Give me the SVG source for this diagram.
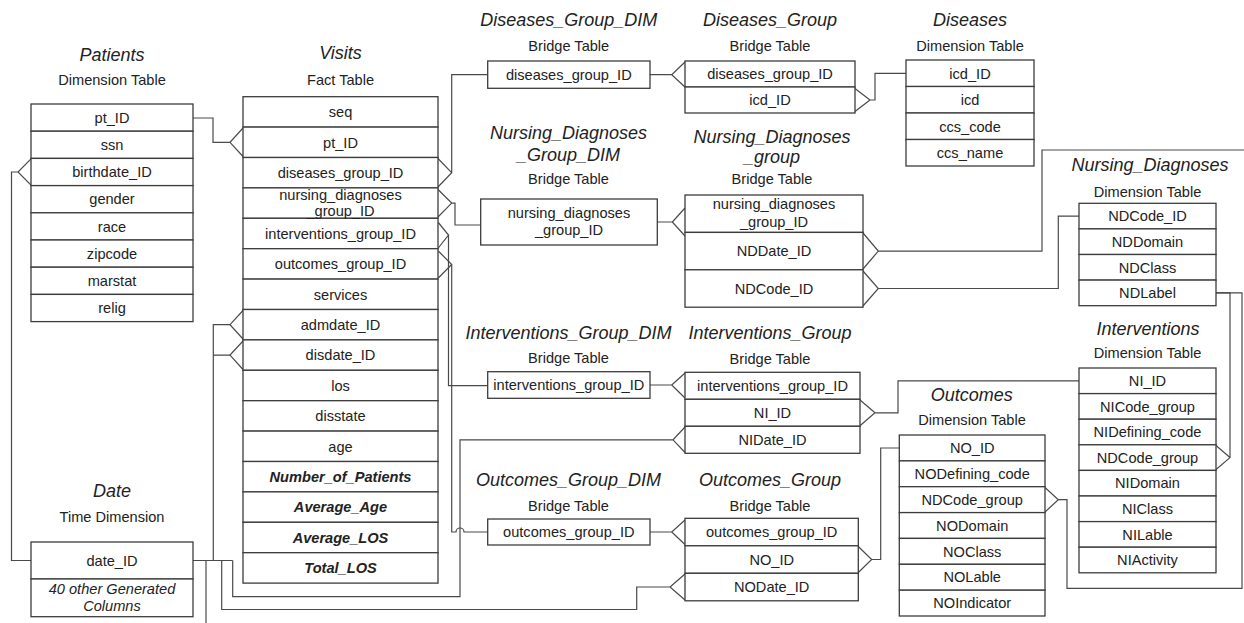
<svg xmlns="http://www.w3.org/2000/svg" width="1244" height="623" viewBox="0 0 1244 623">
<style>
.bg{fill:#ffffff}
.cell{fill:#ffffff;stroke:#3c3c3c;stroke-width:1.3}
.conn{fill:none;stroke:#4a4a4a;stroke-width:1.2}
text{font-family:"Liberation Sans",Arial,sans-serif;fill:#222;text-anchor:middle}
.t{font-size:14.6px}
.ttl{font-size:18px;font-style:italic}
.sub{font-size:14.6px}
.bi{font-size:14.6px;font-weight:bold;font-style:italic}
.it{font-size:14.6px;font-style:italic}
</style>
<rect class="bg" x="0" y="0" width="1244" height="623"/>

<g id="connectors">
  <path class="conn" d="M193,118 H213 V142.3 H230 M243,128 L230,142.3 L243,156.5"/>
  <path class="conn" d="M31,158.8 L18,172 L31,185.2 M18,172 H11.5 V560.5 H31"/>
  <path class="conn" d="M193,560.5 H232.7"/>
  <path class="conn" d="M213.3,560.5 V324.7 H230 M213.3,355.1 H230"/>
  <path class="conn" d="M243,310.5 L230,324.7 L243,339 M243,341 L230,355.1 L243,369.5"/>
  <path class="conn" d="M206,560.5 V623"/>
  <path class="conn" d="M221.7,560.5 V609.5 H636.7 V587 H670 M685,574 L670,587 L685,600"/>
  <path class="conn" d="M232.7,560.5 V596.7 H460 V439.8 H673 M685,427 L673,439.8 L685,452.5"/>
  <path class="conn" d="M438,158.5 L451.7,172.7 L438,187 M451.7,172.7 V74.7 H487.7"/>
  <path class="conn" d="M438,189.5 L451.7,203.1 L438,217 M451.7,203.1 H455 V225 H480.7"/>
  <path class="conn" d="M438.3,222.5 L448.5,235 L438.3,248 M448.5,235 V385.7 H487.7"/>
  <path class="conn" d="M438.3,251 L451.7,264.5 L438.3,278 M451.7,264.5 V532 H456 A4,4 0 0 1 464,532 H487.7"/>
  <path class="conn" d="M650,74.7 H671.7 M685,62 L671.7,74.7 L685,87"/>
  <path class="conn" d="M855,88.5 L870,100 L855,111.5 M870,100 H875 V73.3 H906"/>
  <path class="conn" d="M657.3,222 H672.3 M685,208 L672.3,222 L685,236"/>
  <path class="conn" d="M863,233 L878.3,251.1 L863,269 M878.3,251.1 H1042 V150 H1244"/>
  <path class="conn" d="M863,271 L878.3,288.5 L863,306 M878.3,288.5 H1058.3 V216.1 H1079"/>
  <path class="conn" d="M860,400 L875,412.8 L860,425.8 M875,412.8 H898 V380.8 H1079"/>
  <path class="conn" d="M1216,292.9 H1230 V457.6 M1216,445.5 L1230,457.6 L1216,469.5"/>
  <path class="conn" d="M1216,292.9 H1242 V588.3 H1067 V499.7 H1058.3 M1045,487.5 L1058.3,499.7 L1045,512"/>
  <path class="conn" d="M858.3,546.5 L871.7,559.5 L858.3,572.5 M871.7,559.5 H880.7 V448 H899.3"/>
  <path class="conn" d="M650,385 H671.7 M685,373 L671.7,385 L685,398"/>
  <path class="conn" d="M650,532 H671.7 M685,520 L671.7,532 L685,544.5"/>
</g>

<g id="patients">
  <text class="ttl" x="112" y="60.5">Patients</text>
  <text class="sub" x="112" y="85">Dimension Table</text>
  <rect class="cell" x="31" y="104" width="162" height="27.2"/>
  <rect class="cell" x="31" y="131.2" width="162" height="27.2"/>
  <rect class="cell" x="31" y="158.4" width="162" height="27.2"/>
  <rect class="cell" x="31" y="185.6" width="162" height="27.2"/>
  <rect class="cell" x="31" y="212.8" width="162" height="27.2"/>
  <rect class="cell" x="31" y="240" width="162" height="27.2"/>
  <rect class="cell" x="31" y="267.2" width="162" height="27.2"/>
  <rect class="cell" x="31" y="294.4" width="162" height="27.2"/>
  <text class="t" x="112" y="122.8">pt_ID</text>
  <text class="t" x="112" y="150">ssn</text>
  <text class="t" x="112" y="177.2">birthdate_ID</text>
  <text class="t" x="112" y="204.4">gender</text>
  <text class="t" x="112" y="231.6">race</text>
  <text class="t" x="112" y="258.8">zipcode</text>
  <text class="t" x="112" y="286">marstat</text>
  <text class="t" x="112" y="313.2">relig</text>
</g>

<g id="visits">
  <text class="ttl" x="340.5" y="59">Visits</text>
  <text class="sub" x="340.5" y="84.5">Fact Table</text>
  <rect class="cell" x="243" y="96.7" width="195" height="30.4"/>
  <rect class="cell" x="243" y="127.1" width="195" height="30.4"/>
  <rect class="cell" x="243" y="157.5" width="195" height="30.4"/>
  <rect class="cell" x="243" y="187.9" width="195" height="30.4"/>
  <rect class="cell" x="243" y="218.3" width="195" height="30.4"/>
  <rect class="cell" x="243" y="248.7" width="195" height="30.4"/>
  <rect class="cell" x="243" y="279.1" width="195" height="30.4"/>
  <rect class="cell" x="243" y="309.5" width="195" height="30.4"/>
  <rect class="cell" x="243" y="339.9" width="195" height="30.4"/>
  <rect class="cell" x="243" y="370.3" width="195" height="30.4"/>
  <rect class="cell" x="243" y="400.7" width="195" height="30.4"/>
  <rect class="cell" x="243" y="431.1" width="195" height="30.4"/>
  <rect class="cell" x="243" y="461.5" width="195" height="30.4"/>
  <rect class="cell" x="243" y="491.9" width="195" height="30.4"/>
  <rect class="cell" x="243" y="522.3" width="195" height="30.4"/>
  <rect class="cell" x="243" y="552.7" width="195" height="30.4"/>
  <text class="t" x="340.5" y="117.1">seq</text>
  <text class="t" x="340.5" y="147.5">pt_ID</text>
  <text class="t" x="340.5" y="177.9">diseases_group_ID</text>
  <text class="t" x="340.5" y="200">nursing_diagnoses</text>
  <text class="t" x="340.5" y="216.4">_group_ID</text>
  <text class="t" x="340.5" y="238.7">interventions_group_ID</text>
  <text class="t" x="340.5" y="269.1">outcomes_group_ID</text>
  <text class="t" x="340.5" y="299.5">services</text>
  <text class="t" x="340.5" y="329.9">admdate_ID</text>
  <text class="t" x="340.5" y="360.3">disdate_ID</text>
  <text class="t" x="340.5" y="390.7">los</text>
  <text class="t" x="340.5" y="421.1">disstate</text>
  <text class="t" x="340.5" y="451.5">age</text>
  <text class="bi" x="340.5" y="481.9">Number_of_Patients</text>
  <text class="bi" x="340.5" y="512.3">Average_Age</text>
  <text class="bi" x="340.5" y="542.7">Average_LOS</text>
  <text class="bi" x="340.5" y="573.1">Total_LOS</text>
</g>

<g id="date">
  <text class="ttl" x="112" y="497">Date</text>
  <text class="sub" x="112" y="522.3">Time Dimension</text>
  <rect class="cell" x="31" y="542" width="162" height="37"/>
  <rect class="cell" x="31" y="579" width="162" height="37.7"/>
  <text class="t" x="112" y="565.7">date_ID</text>
  <text class="it" x="112" y="593.5">40 other Generated</text>
  <text class="it" x="112" y="611.2">Columns</text>
</g>

<g id="diseases_group_dim">
  <text class="ttl" x="568.8" y="26">Diseases_Group_DIM</text>
  <text class="sub" x="568.8" y="50.7">Bridge Table</text>
  <rect class="cell" x="487.7" y="61" width="162.3" height="27.3"/>
  <text class="t" x="568.8" y="79.9">diseases_group_ID</text>
</g>

<g id="diseases_group">
  <text class="ttl" x="770" y="26">Diseases_Group</text>
  <text class="sub" x="770" y="50.7">Bridge Table</text>
  <rect class="cell" x="685" y="61" width="170" height="26"/>
  <rect class="cell" x="685" y="87" width="170" height="26"/>
  <text class="t" x="770" y="79.2">diseases_group_ID</text>
  <text class="t" x="770" y="105.2">icd_ID</text>
</g>

<g id="diseases">
  <text class="ttl" x="970" y="26">Diseases</text>
  <text class="sub" x="970" y="51">Dimension Table</text>
  <rect class="cell" x="906" y="60" width="128" height="26.5"/>
  <rect class="cell" x="906" y="86.5" width="128" height="26.5"/>
  <rect class="cell" x="906" y="113" width="128" height="26.5"/>
  <rect class="cell" x="906" y="139.5" width="128" height="26.5"/>
  <text class="t" x="970" y="78.5">icd_ID</text>
  <text class="t" x="970" y="105">icd</text>
  <text class="t" x="970" y="131.5">ccs_code</text>
  <text class="t" x="970" y="158">ccs_name</text>
</g>

<g id="nursing_diagnoses_group_dim">
  <text class="ttl" x="568.5" y="139">Nursing_Diagnoses</text>
  <text class="ttl" x="568.5" y="160.5">_Group_DIM</text>
  <text class="sub" x="568.5" y="184">Bridge Table</text>
  <rect class="cell" x="480.7" y="199" width="176.6" height="46"/>
  <text class="t" x="569" y="217.5">nursing_diagnoses</text>
  <text class="t" x="569" y="235.2">_group_ID</text>
</g>

<g id="nursing_diagnoses_group">
  <text class="ttl" x="772" y="143">Nursing_Diagnoses</text>
  <text class="ttl" x="772" y="163">_group</text>
  <text class="sub" x="772" y="184">Bridge Table</text>
  <rect class="cell" x="685" y="195" width="178" height="37.4"/>
  <rect class="cell" x="685" y="232.4" width="178" height="37.4"/>
  <rect class="cell" x="685" y="269.8" width="178" height="37.4"/>
  <text class="t" x="774" y="208.5">nursing_diagnoses</text>
  <text class="t" x="774" y="226.9">_group_ID</text>
  <text class="t" x="774" y="256.3">NDDate_ID</text>
  <text class="t" x="774" y="293.7">NDCode_ID</text>
</g>

<g id="nursing_diagnoses">
  <text class="ttl" x="1150" y="171">Nursing_Diagnoses</text>
  <text class="sub" x="1147.5" y="196.7">Dimension Table</text>
  <rect class="cell" x="1079" y="203.3" width="137" height="25.6"/>
  <rect class="cell" x="1079" y="228.9" width="137" height="25.6"/>
  <rect class="cell" x="1079" y="254.5" width="137" height="25.6"/>
  <rect class="cell" x="1079" y="280.1" width="137" height="25.6"/>
  <text class="t" x="1147.5" y="221.3">NDCode_ID</text>
  <text class="t" x="1147.5" y="246.9">NDDomain</text>
  <text class="t" x="1147.5" y="272.5">NDClass</text>
  <text class="t" x="1147.5" y="298.1">NDLabel</text>
</g>

<g id="interventions_group_dim">
  <text class="ttl" x="568.5" y="339">Interventions_Group_DIM</text>
  <text class="sub" x="568.5" y="363.3">Bridge Table</text>
  <rect class="cell" x="487.7" y="371.7" width="162.3" height="26.6"/>
  <text class="t" x="568.8" y="390.2">interventions_group_ID</text>
</g>

<g id="interventions_group">
  <text class="ttl" x="770" y="339">Interventions_Group</text>
  <text class="sub" x="770" y="364">Bridge Table</text>
  <rect class="cell" x="685" y="372.3" width="175" height="27"/>
  <rect class="cell" x="685" y="399.3" width="175" height="27"/>
  <rect class="cell" x="685" y="426.3" width="175" height="27"/>
  <text class="t" x="772.5" y="391">interventions_group_ID</text>
  <text class="t" x="772.5" y="418">NI_ID</text>
  <text class="t" x="772.5" y="445">NIDate_ID</text>
</g>

<g id="interventions">
  <text class="ttl" x="1148" y="334.8">Interventions</text>
  <text class="sub" x="1147.5" y="358.3">Dimension Table</text>
  <rect class="cell" x="1079" y="368" width="137" height="25.6"/>
  <rect class="cell" x="1079" y="393.6" width="137" height="25.6"/>
  <rect class="cell" x="1079" y="419.2" width="137" height="25.6"/>
  <rect class="cell" x="1079" y="444.8" width="137" height="25.6"/>
  <rect class="cell" x="1079" y="470.4" width="137" height="25.6"/>
  <rect class="cell" x="1079" y="496" width="137" height="25.6"/>
  <rect class="cell" x="1079" y="521.6" width="137" height="25.6"/>
  <rect class="cell" x="1079" y="547.2" width="137" height="25.6"/>
  <text class="t" x="1147.5" y="386">NI_ID</text>
  <text class="t" x="1147.5" y="411.6">NICode_group</text>
  <text class="t" x="1147.5" y="437.2">NIDefining_code</text>
  <text class="t" x="1147.5" y="462.8">NDCode_group</text>
  <text class="t" x="1147.5" y="488.4">NIDomain</text>
  <text class="t" x="1147.5" y="514">NIClass</text>
  <text class="t" x="1147.5" y="539.6">NILable</text>
  <text class="t" x="1147.5" y="565.2">NIActivity</text>
</g>

<g id="outcomes_group_dim">
  <text class="ttl" x="568.5" y="486">Outcomes_Group_DIM</text>
  <text class="sub" x="568.5" y="510.7">Bridge Table</text>
  <rect class="cell" x="487.7" y="519" width="162.3" height="26"/>
  <text class="t" x="568.8" y="537.2">outcomes_group_ID</text>
</g>

<g id="outcomes_group">
  <text class="ttl" x="770" y="486">Outcomes_Group</text>
  <text class="sub" x="770" y="510.7">Bridge Table</text>
  <rect class="cell" x="685" y="518.3" width="173.3" height="27.5"/>
  <rect class="cell" x="685" y="545.8" width="173.3" height="27.5"/>
  <rect class="cell" x="685" y="573.3" width="173.3" height="27.5"/>
  <text class="t" x="771.7" y="537.2">outcomes_group_ID</text>
  <text class="t" x="771.7" y="564.7">NO_ID</text>
  <text class="t" x="771.7" y="592.2">NODate_ID</text>
</g>

<g id="outcomes">
  <text class="ttl" x="971.7" y="400.5">Outcomes</text>
  <text class="sub" x="972" y="425">Dimension Table</text>
  <rect class="cell" x="899.3" y="435" width="145.7" height="25.9"/>
  <rect class="cell" x="899.3" y="460.9" width="145.7" height="25.8"/>
  <rect class="cell" x="899.3" y="486.7" width="145.7" height="25.9"/>
  <rect class="cell" x="899.3" y="512.6" width="145.7" height="25.8"/>
  <rect class="cell" x="899.3" y="538.4" width="145.7" height="25.9"/>
  <rect class="cell" x="899.3" y="564.3" width="145.7" height="25.9"/>
  <rect class="cell" x="899.3" y="590.2" width="145.7" height="25.8"/>
  <text class="t" x="972.2" y="453.2">NO_ID</text>
  <text class="t" x="972.2" y="479">NODefining_code</text>
  <text class="t" x="972.2" y="504.9">NDCode_group</text>
  <text class="t" x="972.2" y="530.7">NODomain</text>
  <text class="t" x="972.2" y="556.6">NOClass</text>
  <text class="t" x="972.2" y="582.4">NOLable</text>
  <text class="t" x="972.2" y="608.3">NOIndicator</text>
</g>
</svg>
